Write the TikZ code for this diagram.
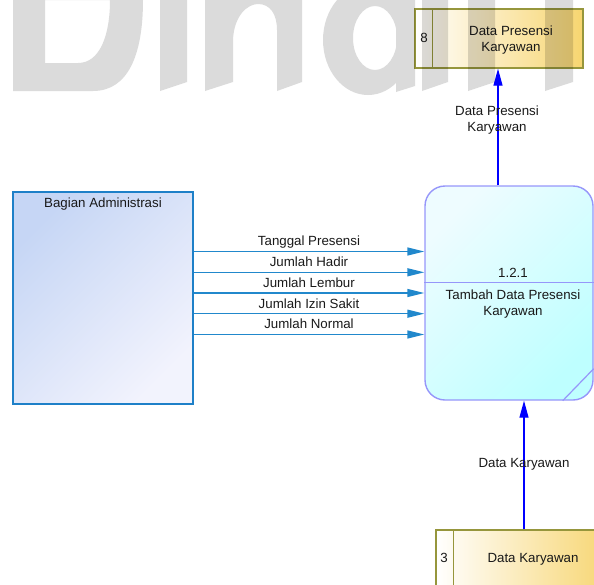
\documentclass[tikz,border=0pt]{standalone}
\usepackage{fontspec}
\setmainfont{Liberation Sans}
\usetikzlibrary{arrows.meta,calc}

\definecolor{flowblue}{RGB}{0,0,255}
\definecolor{flowsteel}{RGB}{33,136,204}
\definecolor{entline}{RGB}{30,128,200}
\definecolor{entdark}{RGB}{198,214,245}
\definecolor{entlight}{RGB}{242,243,253}
\definecolor{procline}{RGB}{150,150,250}
\definecolor{proclight}{RGB}{238,252,255}
\definecolor{proccyan}{RGB}{190,255,255}
\definecolor{storeline}{RGB}{150,150,60}
\definecolor{storegold}{RGB}{247,213,112}
\definecolor{txt}{RGB}{25,25,25}

\begin{document}
\begin{tikzpicture}[x=1pt,y=-1pt,
  every node/.style={font=\fontsize{13.3}{16}\selectfont, text=txt},
  entity/.style={draw=entline, line width=1.4pt, top color=entdark,
    bottom color=entlight, shading angle=45, inner sep=0},
  process/.style={draw=procline, line width=1.4pt, rounded corners=20pt,
    top color=proclight, bottom color=proccyan, shading angle=45, inner sep=0},
  store/.style={draw=storeline, line width=1.4pt, left color=white,
    right color=storegold, inner sep=0},
  storeline/.style={draw=storeline, line width=1.4pt},
  flowv/.style={draw=flowblue, line width=1.3pt,
    -{Triangle[length=17pt,width=9pt]}},
  flowh/.style={draw=flowsteel, line width=1.4pt,
    -{Triangle[length=17pt,width=8pt]}},
  flowlabel/.style={midway, anchor=base, yshift=5.6pt, inner sep=0}
]
\useasboundingbox (0,0) rectangle (594,584);
\clip (0,0) rectangle (594,584);

% external entity
\node[entity, minimum width=180, minimum height=212] (ba) at (103,298) {};
\node[anchor=base, inner sep=0] (batxt) at (103,207) {Bagian Administrasi};

% process 1.2.1
\node[process, minimum width=168, minimum height=214] (proc) at (509,293) {};
\draw[procline, line width=1.4pt]
  ($(proc.north west)+(0,97)$) -- ($(proc.north east)+(0,97)$);
\draw[procline, line width=1.2pt]
  ($(proc.south east)+(-31,0)$) -- ($(proc.south east)+(0,-32)$);
\node[anchor=base, inner sep=0] (procid) at (513,277) {1.2.1};
\node[align=center, inner sep=0] (proctxt) at (513,303.6)
  {Tambah Data Presensi\\Karyawan};

% data store 8
\node[store, minimum width=168, minimum height=59] (ds8) at (499,38.5) {};
\draw[storeline] ($(ds8.north west)+(18,0)$) -- ($(ds8.south west)+(18,0)$);
\node[anchor=base, inner sep=0] (ds8id) at (424,42.7) {8};
\node[align=center, inner sep=0] (ds8txt) at (511,39.6)
  {Data Presensi\\Karyawan};

% data store 3
\node[store, minimum width=176, minimum height=60] (ds3) at (524,560) {};
\draw[storeline] ($(ds3.north west)+(18,0)$) -- ($(ds3.south west)+(18,0)$);
\node[anchor=base, inner sep=0] (ds3id) at (444,562.7) {3};
\node[anchor=base, inner sep=0] (ds3txt) at (533,562.7) {Data Karyawan};

% data flows from the entity into the process
\coordinate (f1) at (0,251.5);
\coordinate (f2) at (0,272.3);
\coordinate (f3) at (0,293);
\coordinate (f4) at (0,313.7);
\coordinate (f5) at (0,334.5);
\draw[flowh] (ba.east |- f1) -- (proc.west |- f1)
  node[flowlabel] {Tanggal Presensi};
\draw[flowh] (ba.east |- f2) -- (proc.west |- f2)
  node[flowlabel] {Jumlah Hadir};
\draw[flowh] (ba.east |- f3) -- (proc.west |- f3)
  node[flowlabel] {Jumlah Lembur};
\draw[flowh] (ba.east |- f4) -- (proc.west |- f4)
  node[flowlabel] {Jumlah Izin Sakit};
\draw[flowh] (ba.east |- f5) -- (proc.west |- f5)
  node[flowlabel] {Jumlah Normal};

% process to store 8
\coordinate (xup) at (498,0);
\draw[flowv] (proc.north -| xup) -- (ds8.south -| xup);
\node[align=center, inner sep=0] (uplabel) at (497,119.6)
  {Data Presensi\\Karyawan};

% store 3 to process
\draw[flowv] (ds3.north) -- (proc.south -| ds3.north);
\node[anchor=base, inner sep=0] (downlabel) at (524,467.7) {Data Karyawan};

% watermark lettering across the top
\begin{scope}[transparency group, opacity=0.14]
  \fill[black, even odd rule]
    (13,0) -- (13,91) -- (93,91) .. controls (128,91) and (143,55) .. (143,0) -- cycle
    (45,0) -- (45,63) -- (78,63) .. controls (100,63) and (110,35) .. (110,0) -- cycle;
  \fill[black] (160,0) -- (160,91) -- (187,82) -- (187,0) -- cycle;
  \fill[black] (205,0) -- (205,91) -- (233,82) -- (233,40)
    .. controls (234,15) and (248,4) .. (258,4)
    .. controls (270,4) and (277,14) .. (277,30)
    -- (277,91) -- (302,82) -- (302,0) -- cycle;
  \fill[black, even odd rule] (368,40) ellipse [x radius=45, y radius=55]
    (375,38) ellipse [x radius=22, y radius=32];
  \fill[black] (396,0) -- (396,92) -- (415,86) -- (415,0) -- cycle;
  \fill[black] (422,0) -- (422,91) -- (448,82) -- (448,0) -- cycle;
  \fill[black] (468,0) -- (468,91) -- (495,82) -- (495,0) -- cycle;
  \fill[black] (545,0) -- (545,91) -- (573,82) -- (573,0) -- cycle;
\end{scope}
\end{tikzpicture}
\end{document}
